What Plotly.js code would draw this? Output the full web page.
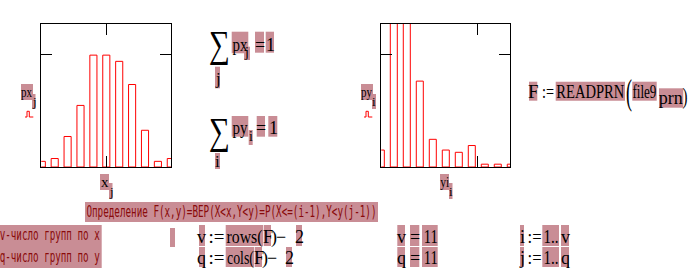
<!DOCTYPE html>
<html>
<head>
<meta charset="utf-8">
<script src="https://cdn.plot.ly/plotly-3.0.1.min.js"></script>
<style>html,body{margin:0;padding:0;background:#fff;}#chart{width:689px;height:271px;}</style>
</head>
<body>
<div id="chart"></div>
<script>
// ---- data ----
var xIndex = [1, 2, 3, 4, 5, 6, 7, 8, 9, 10, 11];
var pxValues = [0.010, 0.015, 0.054, 0.109, 0.198, 0.198, 0.187, 0.146, 0.065, 0.010, 0.015];
var yIndex = [1, 2, 3, 4, 5, 6, 7, 8, 9, 10, 11];
var pyValues = [0.030, 0.330, 0.330, 0.152, 0.049, 0.030, 0.026, 0.038, 0.005, 0.005, 0.005];
var xTickVals = [6.05];
var yTickVals = [0.2];
var x2TickVals = [8.42];

// ---- layout helpers (pixel -> paper) ----
var W = 689, H = 271;
function PX(x) { return x / W; }
function PY(y) { return 1 - y / H; }

var PINK = '#c98d95';
var DARKRED = '#8a0a0a';
var SERIF = 'Liberation Serif, serif';
var MONO = 'DejaVu Sans Mono, monospace';

var boxes = [
  [21,33,84,100],[32,35.5,94,109],
  [100,109,174,190],[109,112.5,183,199],
  [361,373,84,100],[372,376,94,109],
  [440,449,174,190],[449,452.5,183,199],
  [231.7,248.3,31.7,53.3],[244,250,46.7,60],[255,264,31.7,52.7],[265.7,274,31.7,52.7],[215,220,66.7,88.3],
  [231.7,248.3,116,136.7],[248.7,252.7,130,145],[256.7,265,116,136.7],[268.3,277.3,116,136.7],[215,220,153,169],
  [529,537.3,81.7,100.7],[555.7,625,81.7,100.7],[632.3,656.7,81.7,100.7],[659,683.3,88.3,107.7],
  [85,378,202,222],[0,101.7,225,268],[170,175,228,247],
  [199,205,225,246],[225.7,263.3,225,246],[264,271,225,246],[296,302,225,246],
  [199,205,247,267],[225.7,254.3,247,267],[255,262,247,267],[286,292,247,267],
  [397.3,405,225,246],[410,419.3,225,246],[422,437.7,225,246],
  [397.3,405,247,267],[410,419.3,247,267],[422,437.7,247,267],
  [520,524,225,246],[542.3,559,225,246],[561,569,225,246],
  [520,524,247,267],[542.3,559,247,267],[561,569,247,267]
];

// text tokens: t, cx, cy (px), size, optional width, font, color
var texts = [
  {t:'px', cx:27, cy:92.4, s:15, w:11},
  {t:'j', cx:34, cy:101.6, s:13},
  {t:'x', cx:104.5, cy:182.4, s:15},
  {t:'j', cx:111, cy:191.6, s:13},
  {t:'py', cx:367, cy:92.4, s:15, w:11},
  {t:'i', cx:374, cy:101.6, s:13},
  {t:'yi', cx:444.5, cy:182.4, s:15, w:9},
  {t:'i', cx:451, cy:191.6, s:13},

  {t:'\u2211', cx:219.5, cy:44.5, s:38, w:21},
  {t:'px', cx:240, cy:44.5, s:18, w:15},
  {t:'j', cx:247, cy:52.2, s:14},
  {t:'=', cx:259.5, cy:44.5, s:18},
  {t:'1', cx:270, cy:44.5, s:18},
  {t:'j', cx:217.5, cy:78.6, s:17},
  {t:'\u2211', cx:219.5, cy:131.7, s:38, w:21},
  {t:'py', cx:240, cy:127.8, s:18, w:15},
  {t:'i', cx:250.7, cy:136.5, s:14},
  {t:'=', cx:261, cy:127.8, s:18},
  {t:'1', cx:273, cy:127.8, s:18},
  {t:'i', cx:217.5, cy:161.6, s:17},

  {t:'F', cx:533, cy:91.8, s:19},
  {t:':=', cx:548, cy:91.8, s:19, w:12},
  {t:'READPRN', cx:590.3, cy:91.8, s:19, w:68},
  {t:'(', cx:629, cy:91.5, s:36, w:6},
  {t:'file9', cx:644.5, cy:91.8, s:19, w:24},
  {t:'prn', cx:671, cy:97, s:19, w:24},
  {t:')', cx:685, cy:96, s:24, w:5},

  {t:'\u041e\u043f\u0440\u0435\u0434\u0435\u043b\u0435\u043d\u0438\u0435 F(x,y)=\u0412\u0415\u0420(X&lt;x,Y&lt;y)=P(X&lt;=(i-1),Y&lt;y(j-1))', cx:231.5, cy:211.2, s:16, w:290, f:MONO, c:DARKRED},
  {t:'v-\u0447\u0438\u0441\u043b\u043e \u0433\u0440\u0443\u043f\u043f \u043f\u043e x', cx:50.5, cy:234.8, s:16, w:100, f:MONO, c:DARKRED},
  {t:'q-\u0447\u0438\u0441\u043b\u043e \u0433\u0440\u0443\u043f\u043f \u043f\u043e y', cx:50.5, cy:256.5, s:16, w:100, f:MONO, c:DARKRED},

  {t:'v', cx:202, cy:237.2, s:18},
  {t:':=', cx:216, cy:237.2, s:18, w:16},
  {t:'rows(', cx:244.5, cy:237.2, s:18, w:36},
  {t:'F', cx:267.5, cy:237.2, s:18},
  {t:')', cx:273.7, cy:237.2, s:18},
  {t:'\u2212', cx:281, cy:237.2, s:18},
  {t:'2', cx:299, cy:237.2, s:18},
  {t:'q', cx:202, cy:258, s:18},
  {t:':=', cx:216, cy:258, s:18, w:16},
  {t:'cols(', cx:240, cy:258, s:18, w:27},
  {t:'F', cx:258.5, cy:258, s:18},
  {t:')', cx:264.5, cy:258, s:18},
  {t:'\u2212', cx:272, cy:258, s:18},
  {t:'2', cx:289, cy:258, s:18},

  {t:'v', cx:401, cy:237, s:18},
  {t:'=', cx:414.7, cy:237, s:18},
  {t:'11', cx:430, cy:237, s:18, w:14},
  {t:'q', cx:401, cy:258, s:18},
  {t:'=', cx:414.7, cy:258, s:18},
  {t:'11', cx:430, cy:258, s:18, w:14},

  {t:'i', cx:522, cy:237, s:18},
  {t:':=', cx:534, cy:237, s:18, w:14},
  {t:'1..', cx:550.7, cy:237, s:18, w:15},
  {t:'v', cx:565, cy:237, s:18},
  {t:'j', cx:522, cy:258, s:18},
  {t:':=', cx:534, cy:258, s:18, w:14},
  {t:'1..', cx:550.7, cy:258, s:18, w:15},
  {t:'q', cx:565, cy:258, s:18}
];

var shapes = boxes.map(function (b) {
  return {type:'rect', xref:'paper', yref:'paper', x0:PX(b[0]), x1:PX(b[1]), y0:PY(b[3]), y1:PY(b[2]),
          fillcolor:PINK, line:{width:0}, layer:'above'};
});
function glyph(x0) {
  var pts = [[x0,117],[x0+2,117],[x0+2,111.3],[x0+4.3,111.3],[x0+4.3,117],[x0+8.3,117]];
  var d = pts.map(function (p, k) { return (k ? 'L' : 'M') + PX(p[0]) + ',' + PY(p[1]); }).join(' ');
  return {type:'path', xref:'paper', yref:'paper', path:d, line:{color:'#ff0000', width:1}, layer:'above'};
}
shapes.push(glyph(25));
shapes.push(glyph(364));

var annotations = texts.map(function (o) {
  return {text:o.t, xref:'paper', yref:'paper', x:PX(o.cx), y:PY(o.cy), xanchor:'center', yanchor:'middle',
          showarrow:false, borderpad:0, font:{family:o.f || SERIF, size:o.s, color:o.c || '#000'}};
});

function axisStyle(extra) {
  var a = {showline:true, linecolor:'#000', linewidth:1, mirror:'ticks', ticks:'inside', ticklen:11,
           tickwidth:1, tickcolor:'#000', showticklabels:false, showgrid:false, zeroline:false, fixedrange:true};
  for (var k in extra) a[k] = extra[k];
  return a;
}

var traces = [
  {type:'bar', x:xIndex, y:pxValues, xaxis:'x', yaxis:'y', width:0.55,
   marker:{color:'rgba(0,0,0,0)', line:{color:'#ff0000', width:1}}, hoverinfo:'skip'},
  {type:'bar', x:yIndex, y:pyValues, xaxis:'x2', yaxis:'y2', width:0.54,
   marker:{color:'rgba(0,0,0,0)', line:{color:'#ff0000', width:1}}, hoverinfo:'skip'}
];

var layout = {
  width:W, height:H, margin:{l:0, r:0, t:0, b:0, pad:0},
  paper_bgcolor:'#fff', plot_bgcolor:'#fff', showlegend:false,
  xaxis: axisStyle({domain:[PX(41.3), PX(171.3)], range:[0.961, 11.039], tickvals:xTickVals, anchor:'y'}),
  yaxis: axisStyle({domain:[PY(167), PY(24)], range:[0, 0.2531], tickvals:yTickVals, anchor:'x'}),
  xaxis2: axisStyle({domain:[PX(381.3), PX(510.3)], range:[1.038, 10.962], tickvals:x2TickVals, anchor:'y2'}),
  yaxis2: axisStyle({domain:[PY(167), PY(24)], range:[0, 0.2531], tickvals:yTickVals, anchor:'x2'}),
  shapes:shapes, annotations:annotations
};

var gd = document.getElementById('chart');
Plotly.newPlot(gd, traces, layout, {staticPlot:true, displayModeBar:false}).then(function () {
  var groups = gd.querySelectorAll('.annotation');
  groups.forEach(function (g) {
    var idx = +g.getAttribute('data-index');
    var o = texts[idx];
    if (!o || !o.w) return;
    var tx = g.querySelector('text.annotation-text');
    if (tx) { tx.setAttribute('textLength', o.w); tx.setAttribute('lengthAdjust', 'spacingAndGlyphs'); }
  });
});
</script>
</body>
</html>
